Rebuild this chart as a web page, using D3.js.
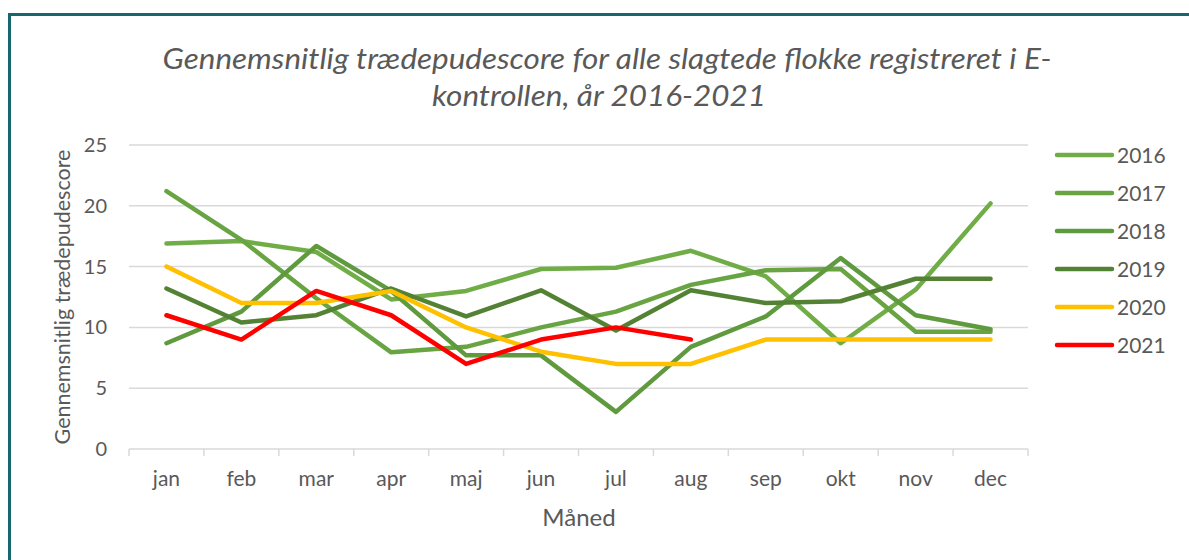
<!DOCTYPE html>
<html><head><meta charset="utf-8">
<script src="https://cdn.jsdelivr.net/npm/d3@7"></script>
<style>body{margin:0;background:#fff}svg{display:block}</style>
</head><body><svg id="c" width="1189" height="560"></svg>
<script>
const months = ["jan","feb","mar","apr","maj","jun","jul","aug","sep","okt","nov","dec"];
const years = ["2016","2017","2018","2019","2020","2021"];
const v2016 = [16.9,17.1,16.2,12.3,13.0,14.8,14.9,16.3,14.2,8.7,13.1,20.2];
const v2017 = [21.2,17.2,12.4,7.95,8.4,10.0,11.3,13.5,14.7,14.8,9.65,9.65];
const v2018 = [8.7,11.3,16.7,13.0,7.7,7.7,3.05,8.4,10.9,15.7,11.0,9.85];
const v2019 = [13.2,10.4,11.0,13.2,10.9,13.05,9.75,13.05,12.0,12.15,14.0,14.0];
const v2020 = [15,12,12,13,10,8,7,7,9,9,9,9];
const v2021 = [11,9,13,11,7,9,10,9];
const yTicks = [0,5,10,15,20,25];
const colors = ["#70AD47","#69A443","#5F9A3E","#548235","#FFC000","#FF0000"];
const seriesVals = [v2016,v2017,v2018,v2019,v2020,v2021];

const svg = d3.select("#c");
const font = "Lato, 'Open Sans', sans-serif";
const txt = "#595959";

// frame border
svg.append("path").attr("d","M9.5,600 L9.5,14.5 L1200,14.5")
  .attr("fill","none").attr("stroke","#17676F").attr("stroke-width",3);

const x = d3.scaleBand().domain(months).range([129,1028]);
const y = d3.scaleLinear().domain([0,25]).range([449,145]);

// gridlines
svg.append("g").selectAll("line").data(yTicks.filter(d=>d>0)).join("line")
  .attr("x1",129).attr("x2",1028).attr("y1",d=>y(d)).attr("y2",d=>y(d))
  .attr("stroke","#D9D9D9").attr("stroke-width",1.5);

// y axis labels
const ya = svg.append("g").attr("transform","translate(129,0)")
  .call(d3.axisLeft(y).tickValues(yTicks).tickSize(0).tickPadding(22));
ya.select(".domain").remove();
ya.selectAll("text").attr("font-family",font).attr("font-size",20).attr("fill",txt);

// x axis
const xa = svg.append("g").attr("transform","translate(0,449)")
  .call(d3.axisBottom(x).tickSize(0).tickPadding(22));
xa.select(".domain").attr("stroke","#D9D9D9").attr("stroke-width",1.5).attr("d","M129,0H1028");
xa.selectAll("text").attr("font-family",font).attr("font-size",21).attr("fill",txt);
// category boundary ticks
const bounds = months.map(m=>x(m)).concat([x(months[11])+x.bandwidth()]);
svg.append("g").selectAll("line").data(bounds).join("line")
  .attr("x1",d=>d).attr("x2",d=>d).attr("y1",449).attr("y2",456)
  .attr("stroke","#D9D9D9").attr("stroke-width",1.5);

// lines
const line = d3.line().x((d,i)=>x(months[i])+x.bandwidth()/2).y(d=>y(d));
svg.append("g").selectAll("path").data(seriesVals).join("path")
  .attr("d",d=>line(d)).attr("fill","none")
  .attr("stroke",(d,i)=>colors[i]).attr("stroke-width",4.5)
  .attr("stroke-linecap","round").attr("stroke-linejoin","round");

// title
const tAttrs = s => s.attr("text-anchor","middle").attr("font-family",font)
  .attr("font-style","italic").attr("font-size",28).attr("fill",txt)
  .attr("lengthAdjust","spacingAndGlyphs");
svg.append("text").call(tAttrs).attr("x",607).attr("y",69).attr("textLength",889)
  .text("Gennemsnitlig trædepudescore for alle slagtede flokke registreret i E-");
svg.append("text").call(tAttrs).attr("x",599).attr("y",106).attr("textLength",334)
  .text("kontrollen, år 2016-2021");

// axis titles
svg.append("text").attr("transform","translate(70,297) rotate(-90)").attr("text-anchor","middle")
  .attr("font-family",font).attr("font-size",21.5).attr("fill",txt).text("Gennemsnitlig trædepudescore");
svg.append("text").attr("x",579).attr("y",526).attr("text-anchor","middle")
  .attr("font-family",font).attr("font-size",24).attr("fill",txt).text("Måned");

// legend
const lg = svg.append("g").selectAll("g").data(years).join("g")
  .attr("transform",(d,i)=>`translate(1057,${155+i*38})`);
lg.append("line").attr("x1",0).attr("x2",55).attr("stroke",(d,i)=>colors[i])
  .attr("stroke-width",4.5).attr("stroke-linecap","round");
lg.append("text").attr("x",60).attr("y",7.5).attr("font-family",font).attr("font-size",21)
  .attr("fill",txt).text(d=>d);
</script></body></html>
